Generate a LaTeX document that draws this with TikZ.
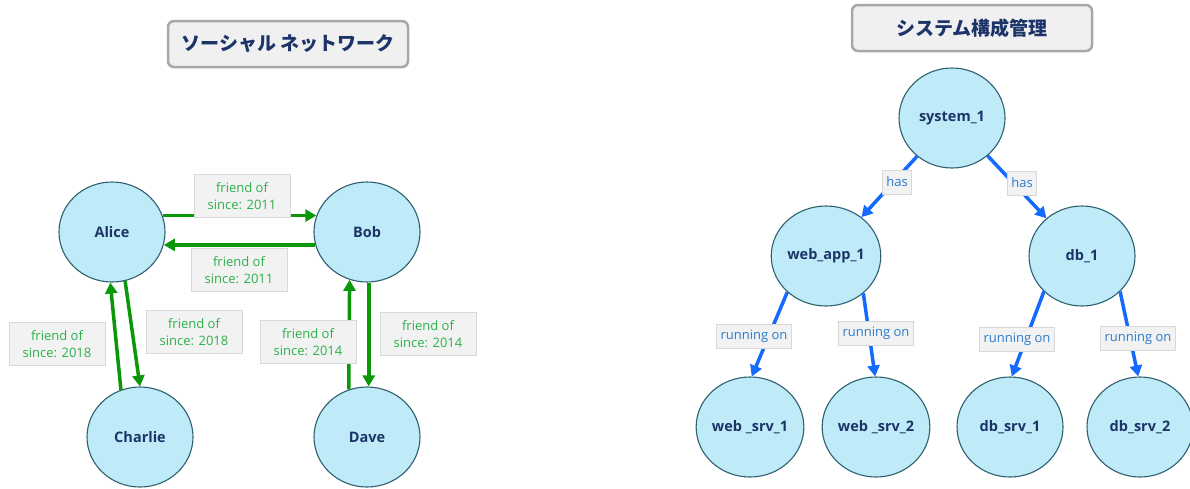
\documentclass[tikz,border=0pt]{standalone}
\usepackage{fontspec}
\setmainfont{Open Sans}
\newfontfamily\jpfont{Noto Sans CJK JP}
\usetikzlibrary{arrows.meta,shapes.geometric}

\definecolor{nodefill}{HTML}{BEEBF7}
\definecolor{nodeline}{HTML}{2F6070}
\definecolor{nodetext}{HTML}{1C3468}
\definecolor{titlefill}{HTML}{F0F0F0}
\definecolor{titleline}{HTML}{A8A8A8}
\definecolor{lblfill}{HTML}{F2F2F2}
\definecolor{lblline}{HTML}{D8D8D8}
\definecolor{friendline}{HTML}{0A980A}
\definecolor{friendtext}{HTML}{2DB04A}
\definecolor{partline}{HTML}{1469FF}
\definecolor{parttext}{HTML}{2A7CCF}

\begin{document}
\begin{tikzpicture}
  [x=1pt,y=-1pt,
   every node/.style={ellipse,draw=nodeline,line width=1.1pt,fill=nodefill,
     minimum width=106pt,minimum height=100pt,inner sep=0pt,
     text=nodetext,font=\fontsize{14.5}{18}\selectfont\bfseries},
   title/.style={rectangle,rounded corners=6pt,draw=titleline,line width=2.5pt,
     fill=titlefill,minimum width=240pt,minimum height=46pt,
     font=\jpfont\fontsize{19}{22}\selectfont\bfseries},
   lbl/.style={rectangle,draw=lblline,line width=0.8pt,fill=lblfill,
     minimum width=0pt,minimum height=24pt,inner xsep=4pt,
     font=\fontsize{13}{17}\selectfont},
   friend/.style={lbl,text=friendtext,align=center,minimum width=96pt,minimum height=43pt},
   rel/.style={lbl,text=parttext},
   knows/.style={draw=friendline,line width=3.5pt,-{Triangle[length=11pt,width=12pt]}},
   owns/.style={draw=partline,line width=3.5pt,-{Triangle[length=11pt,width=12pt]}}]
  \useasboundingbox (0,0) rectangle (1190,488);

  % social network
  \node[title] (sn) at (288,44) {ソーシャル ネットワーク};
  \node (Alice) at (112,232) {Alice};
  \node (Bob) at (367,232) {Bob};
  \node (Charlie) at (140,437) {Charlie};
  \node (Dave) at (367,437) {Dave};

  \foreach \from/\to in {Alice.18/Bob.162,Bob.-166/Alice.-14,Charlie.112/Alice.-92,
                         Alice.-75/Charlie.90,Dave.111/Bob.-110,Bob.-88/Dave.88}
    \draw[knows] (\from) -- (\to);

  \node[friend] (f1) at (242,196) {friend of\\since: 2011};
  \node[friend] (f2) at (239,270) {friend of\\since: 2011};
  \node[friend] (f3) at (57,344) {friend of\\since: 2018};
  \node[friend] (f4) at (194,332) {friend of\\since: 2018};
  \node[friend] (f5) at (308,342) {friend of\\since: 2014};
  \node[friend] (f6) at (428,334) {friend of\\since: 2014};

  % system configuration
  \node[title] (sc) at (972,28) {システム構成管理};
  \node (system1) at (952,118) {system\_1};
  \node (webapp1) at (826,256) {web\_app\_1};
  \node (db1) at (1082,256) {db\_1};
  \node (websrv1) at (750,427) {web \_srv\_1};
  \node (websrv2) at (876,427) {web \_srv\_2};
  \node (dbsrv1) at (1010,427) {db\_srv\_1};
  \node (dbsrv2) at (1140,427) {db\_srv\_2};

  \foreach \from/\to in {system1/webapp1,system1/db1,webapp1.-137/websrv1.88,
                         webapp1.-45/websrv2.91,db1.-137/dbsrv1.88,db1.-43/dbsrv2.92}
    \draw[owns] (\from) -- (\to);

  \node[rel] (h1) at (897,182) {has};
  \node[rel] (h2) at (1022,183) {has};
  \node[rel] (r1) at (754,336) {running on};
  \node[rel] (r2) at (876,333) {running on};
  \node[rel] (r3) at (1017,339) {running on};
  \node[rel] (r4) at (1138,338) {running on};

\end{tikzpicture}
\end{document}
